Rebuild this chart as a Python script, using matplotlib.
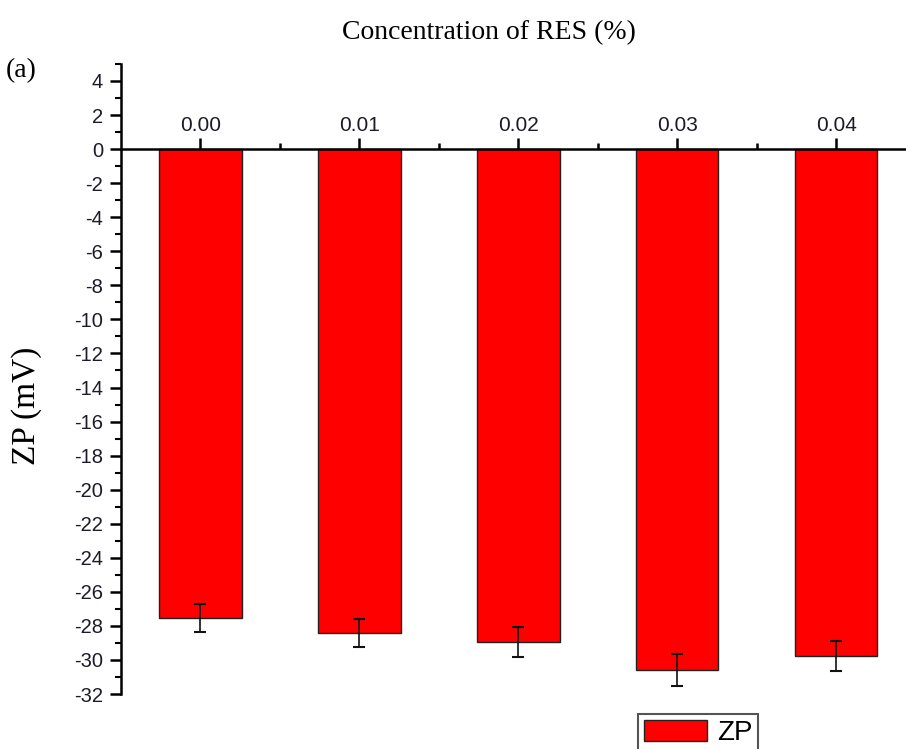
import matplotlib.pyplot as plt
import numpy as np
from matplotlib.ticker import MultipleLocator, FixedLocator

conc = ["0.00", "0.01", "0.02", "0.03", "0.04"]
zp = [-27.55, -28.4, -28.95, -30.6, -29.75]
zp_err = [0.82, 0.83, 0.88, 0.93, 0.88]

fig = plt.figure(figsize=(9.06, 7.49), dpi=100)
ax = fig.add_axes([0.1336, 0.0734, 0.8664, 0.8412])

x = np.arange(len(conc))
ax.bar(x, zp, width=0.52, color="#ff0000", edgecolor="#222222", linewidth=1.0,
       label="ZP", zorder=2)
ax.errorbar(x, zp, yerr=zp_err, fmt="none", ecolor="#111111", elinewidth=1.2,
            capsize=4, capthick=1.5, zorder=3)

ax.set_xlim(-0.5, 4.44)
ax.set_ylim(-32, 5)

# x axis sits at y = 0, ticks and labels above it
ax.spines["top"].set_position(("data", 0))
ax.spines["bottom"].set_visible(False)
ax.spines["right"].set_visible(False)
for s in ["top", "left"]:
    ax.spines[s].set_linewidth(1.8)
ax.spines["top"].set_zorder(4)
ax.xaxis.tick_top()
ax.set_xticks(x)
ax.set_xticklabels(conc, fontfamily="Liberation Sans", fontsize=15, color="#1c1c28")
ax.xaxis.set_minor_locator(FixedLocator(x[:-1] + 0.5))
ax.tick_params(axis="x", which="major", direction="out", length=8, width=1.8, pad=2)
ax.tick_params(axis="x", which="minor", direction="out", length=4, width=1.8)

ax.yaxis.set_minor_locator(MultipleLocator(1))
ax.set_yticks(np.arange(-32, 5, 2))
ax.set_yticklabels([str(v) for v in range(-32, 5, 2)], fontfamily="Liberation Sans",
                   fontsize=14.5, color="#1c1c28")
ax.tick_params(axis="y", which="major", direction="out", length=8, width=1.8, pad=5)
ax.tick_params(axis="y", which="minor", direction="out", length=4, width=1.5)

fig.text(489 / 906, 1 - 33 / 749, "Concentration of RES (%)", ha="center", va="center",
         fontfamily="Liberation Serif", fontsize=20)
fig.text(6 / 906, 1 - 71 / 749, "(a)", ha="left", va="center",
         fontfamily="Liberation Serif", fontsize=20)
fig.text(27 / 906, 1 - 406 / 749, "ZP (mV)", ha="center", va="center", rotation=90,
         fontfamily="Liberation Serif", fontsize=24)

leg = fig.legend(loc="upper left", bbox_to_anchor=(638 / 906, 1 - 714 / 749),
                 prop={"family": "Liberation Sans", "size": 20},
                 fancybox=False, edgecolor="#555555", framealpha=1,
                 handlelength=2.3, handleheight=0.8, borderpad=0.2,
                 handletextpad=0.35, borderaxespad=0)
leg.get_frame().set_linewidth(1.5)

fig.savefig("out.png", dpi=100)
